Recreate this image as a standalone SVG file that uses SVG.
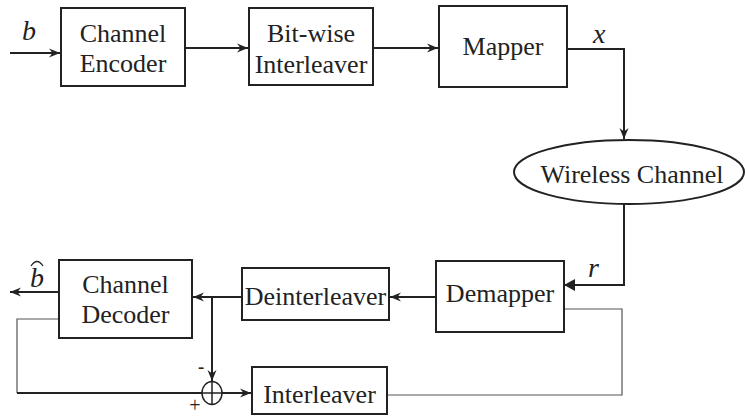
<svg xmlns="http://www.w3.org/2000/svg" width="745" height="416" viewBox="0 0 745 416">
<style>
.box{fill:#fff;stroke:#222;stroke-width:2}
.t{font-family:'Liberation Serif','Times New Roman',serif;font-size:26px;fill:#222;text-anchor:middle}
.m{font-family:'Liberation Serif','Times New Roman',serif;font-style:italic;font-size:28px;fill:#222}
.ln{fill:none;stroke:#222;stroke-width:2}
.thin{fill:none;stroke:#555;stroke-width:1.2}
</style>
<defs>
<marker id="a" markerWidth="12" markerHeight="10" refX="11" refY="5" orient="auto" markerUnits="userSpaceOnUse">
<path d="M0,0.5 L11,5 L0,9.5 L3.5,5 z" fill="#222"/>
</marker>
<marker id="f" markerWidth="12" markerHeight="12" refX="11" refY="6" orient="auto" markerUnits="userSpaceOnUse">
<path d="M0,0 L11,6 L0,12 z" fill="#222"/>
</marker>
</defs>
<g id="connectors">
<line class="ln" x1="10" y1="53" x2="60" y2="53" marker-end="url(#a)"/>
<line class="ln" x1="185" y1="48" x2="248" y2="48" marker-end="url(#a)"/>
<line class="ln" x1="373" y1="48" x2="438" y2="48" marker-end="url(#a)"/>
<polyline class="ln" points="567,49 624,49 624,139" marker-end="url(#a)"/>
<polyline class="ln" points="624,204 624,285 564,285" marker-end="url(#f)"/>
<line class="ln" x1="436" y1="297" x2="390" y2="297" marker-end="url(#a)"/>
<line class="ln" x1="242" y1="297" x2="193" y2="297" marker-end="url(#a)"/>
<line class="ln" x1="212" y1="297" x2="212" y2="381" marker-end="url(#a)"/>
<line class="ln" x1="59" y1="292" x2="10" y2="292" marker-end="url(#a)"/>
<polyline class="thin" points="59,319 17,319 17,393"/>
<line class="ln" x1="17" y1="393" x2="202" y2="393"/>
<line class="ln" x1="222" y1="393" x2="251" y2="393" marker-end="url(#a)"/>
<polyline class="thin" points="564,309 622,309 622,395 387,395"/>
</g>
<g id="sum">
<ellipse cx="212" cy="393" rx="10" ry="11.5" fill="#fff" stroke="#222" stroke-width="1.5"/>
<line x1="202" y1="393" x2="222" y2="393" stroke="#222" stroke-width="1.5"/>
<line x1="212" y1="381.5" x2="212" y2="404.5" stroke="#222" stroke-width="1.5"/>
<text x="201" y="374" font-family="'Liberation Sans',sans-serif" font-size="20" text-anchor="middle" fill="#222">-</text>
<text x="195" y="412" font-family="'Liberation Serif',serif" font-size="20" text-anchor="middle" fill="#222">+</text>
</g>
<g id="enc">
<rect class="box" x="61" y="8" width="124" height="78"/>
<text class="t" x="123" y="42">Channel</text>
<text class="t" x="123" y="72">Encoder</text>
</g>
<g id="bitint">
<rect class="box" x="249" y="8" width="124" height="77"/>
<text class="t" x="311" y="42">Bit-wise</text>
<text class="t" x="311" y="73">Interleaver</text>
</g>
<g id="mapper">
<rect class="box" x="439" y="6" width="128" height="81"/>
<text class="t" x="503" y="55">Mapper</text>
</g>
<g id="channel">
<ellipse cx="629" cy="172" rx="115" ry="32" fill="#fff" stroke="#222" stroke-width="2"/>
<text class="t" x="632" y="183">Wireless Channel</text>
</g>
<g id="demapper">
<rect class="box" x="436" y="261" width="128" height="71"/>
<text class="t" x="500" y="302">Demapper</text>
</g>
<g id="deint">
<rect class="box" x="242" y="268" width="147" height="52"/>
<text class="t" x="315.5" y="305">Deinterleaver</text>
</g>
<g id="dec">
<rect class="box" x="59" y="260" width="133" height="78"/>
<text class="t" x="125.5" y="293">Channel</text>
<text class="t" x="125.5" y="323">Decoder</text>
</g>
<g id="int">
<rect class="box" x="252" y="367" width="135" height="47"/>
<text class="t" x="319.5" y="403">Interleaver</text>
</g>
<g id="labels">
<text class="m" x="22" y="40">b</text>
<text class="m" x="593" y="43">x</text>
<text class="m" x="588" y="277">r</text>
<text class="m" x="30" y="287">b</text>
<path d="M31,266 Q37,257 43,266" fill="none" stroke="#222" stroke-width="1.3"/>
</g>
</svg>
